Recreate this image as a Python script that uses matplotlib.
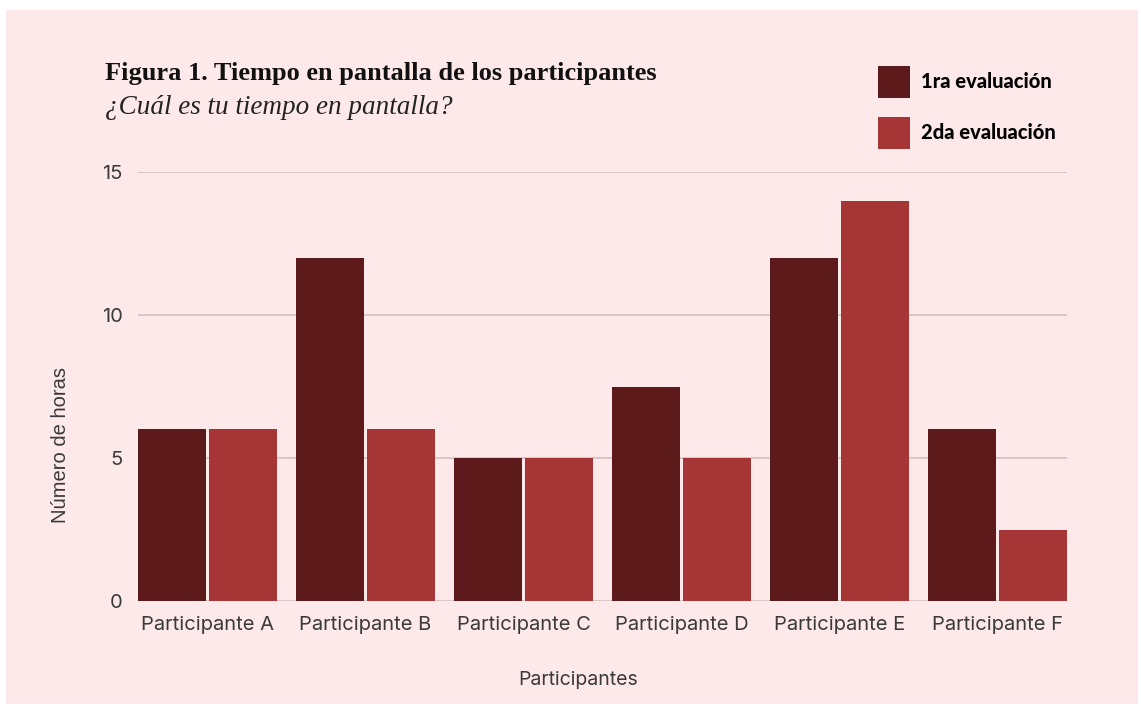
import matplotlib
matplotlib.use("Agg")
import matplotlib.pyplot as plt
from matplotlib.patches import Rectangle, Patch
import numpy as np

participants = ["Participante A", "Participante B", "Participante C",
                "Participante D", "Participante E", "Participante F"]
eval_1 = [6, 12, 5, 7.5, 12, 6]
eval_2 = [6, 6, 5, 5, 14, 2.5]
series_names = ["1ra evaluación", "2da evaluación"]
y_ticks = [0, 5, 10, 15]

dark = "#5c1a1b"
red = "#a63536"
bg = "#fde8ea"
grid_c = "#d4bfc1"
text_c = "#3a3a3a"

W, H = 1141, 709
fig = plt.figure(figsize=(W / 100, H / 100), dpi=100, facecolor="white")
fig.patches.append(Rectangle((6 / W, 5 / H), (1138 - 6) / W, (699 - 5) / H,
                             transform=fig.transFigure, facecolor=bg,
                             edgecolor="none", zorder=-5))

ax = fig.add_axes([138 / W, 1 - 601 / H, (1067 - 138) / W, (601 - 172) / H])
ax.set_facecolor("none")

x = np.arange(len(participants))
bw = 0.43
ax.bar(x - 0.225, eval_1, width=bw, color=dark, zorder=3)
ax.bar(x + 0.225, eval_2, width=bw, color=red, zorder=3)

ax.set_xlim(-0.44, len(participants) - 1 + 0.44)
ax.set_ylim(0, 15)
ax.set_yticks(y_ticks)
ax.set_xticks(x)
ax.set_xticklabels(participants)
ax.yaxis.grid(True, color=grid_c, linewidth=1.2, zorder=0)
for s in ax.spines.values():
    s.set_visible(False)
ax.tick_params(length=0, labelsize=14.5, colors=text_c, labelcolor=text_c)
ax.tick_params(axis="x", pad=11)
ax.tick_params(axis="y", pad=11)
for lab in ax.get_xticklabels() + ax.get_yticklabels():
    lab.set_fontfamily("Inter")

ax.set_xlabel("Participantes", fontsize=14, color=text_c, family="Inter")
ax.xaxis.set_label_coords((578 - 138) / 929, (601 - 680) / 429)
ax.xaxis.label.set_va("center")
ax.set_ylabel("Número de horas", fontsize=14.5, color=text_c, family="Liberation Sans")
ax.yaxis.set_label_coords((61 - 138) / 929, (601 - 445) / 429)
ax.yaxis.label.set_va("center")

fig.text(105 / W, 1 - 80 / H, "Figura 1. Tiempo en pantalla de los participantes",
         fontsize=19, fontweight="bold", family="Liberation Serif",
         color="#111111", va="baseline")
fig.text(105 / W, 1 - 114 / H, "¿Cuál es tu tiempo en pantalla?",
         fontsize=19.5, style="italic", family="Liberation Serif",
         color="#222222", va="baseline")

handles = [Patch(facecolor=dark), Patch(facecolor=red)]
fig.legend(handles, series_names, loc="upper left",
           bbox_to_anchor=(870 / W, 1 - 58 / H), frameon=False,
           prop={"family": "Lato", "weight": "black", "size": 14.5},
           handlelength=1.6, handleheight=2.05, labelspacing=0.95,
           handletextpad=0.55, borderaxespad=0)

fig.savefig("out.png", dpi=100, facecolor="white")
